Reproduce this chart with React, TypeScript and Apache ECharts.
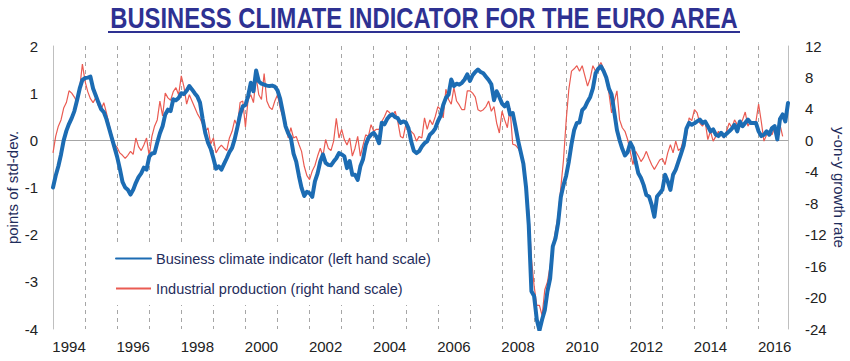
import React, { useEffect, useRef } from "react";
import * as echarts from "echarts";

const FONT = "'Liberation Sans', Arial, sans-serif";
const TITLE = "BUSINESS CLIMATE INDICATOR FOR THE EURO AREA";
const BCI_NAME = "Business climate indicator (left hand scale)";
const IP_NAME = "Industrial production (right hand scale)";
const LEFT_AXIS_NAME = "points of std-dev.";
const RIGHT_AXIS_NAME = "y-on-y growth rate";

const years: number[] = [1994, 1995, 1996, 1997, 1998, 1999, 2000, 2001, 2002, 2003, 2004, 2005, 2006, 2007, 2008, 2009, 2010, 2011, 2012, 2013, 2014, 2015, 2016];
const monthCodes: string[] = ["01", "02", "03", "04", "05", "06", "07", "08", "09", "10", "11", "12"];
const months: string[] = years.flatMap((y) => monthCodes.map((m) => `${y}-${m}`));

// Business climate indicator, points of std-dev (left scale), monthly Jan 1994 - Dec 2016
const businessClimate: number[] = [
  -1.0, -0.75, -0.55, -0.3, 0.0, 0.2, 0.35, 0.47, 0.62, 0.85, 1.1, 1.28, // 1994
  1.32, 1.33, 1.35, 1.1, 0.95, 0.8, 0.66, 0.6, 0.45, 0.25, 0.05, -0.15, // 1995
  -0.35, -0.6, -0.88, -1.0, -1.05, -1.15, -1.05, -0.9, -0.78, -0.7, -0.58, -0.62, // 1996
  -0.35, -0.28, -0.27, -0.05, 0.15, 0.3, 0.55, 0.65, 0.62, 0.87, 0.85, 0.9, // 1997
  1.0, 0.98, 1.05, 1.15, 1.08, 1.0, 0.93, 0.8, 0.45, 0.15, -0.05, -0.18, // 1998
  -0.38, -0.6, -0.55, -0.62, -0.5, -0.38, -0.25, -0.16, 0.03, 0.28, 0.55, 0.72, // 1999
  0.75, 0.94, 1.22, 1.04, 1.48, 1.25, 1.2, 1.18, 1.16, 1.15, 1.16, 1.14, // 2000
  1.06, 0.88, 0.6, 0.3, 0.15, 0.05, -0.28, -0.45, -0.75, -1.01, -1.18, -1.09, // 2001
  -1.12, -1.2, -0.87, -0.7, -0.45, -0.3, -0.48, -0.52, -0.53, -0.45, -0.38, -0.27, // 2002
  -0.3, -0.34, -0.59, -0.44, -0.73, -0.73, -0.84, -0.55, -0.4, -0.1, 0.05, 0.12, // 2003
  0.16, 0.08, -0.06, 0.37, 0.34, 0.45, 0.52, 0.55, 0.49, 0.47, 0.37, 0.4, // 2004
  0.38, 0.26, -0.02, -0.22, -0.27, -0.23, -0.13, -0.06, -0.02, 0.12, 0.17, 0.25, // 2005
  0.4, 0.52, 0.75, 0.9, 0.97, 1.29, 1.15, 1.2, 1.18, 1.22, 1.29, 1.4, // 2006
  1.26, 1.38, 1.45, 1.5, 1.45, 1.42, 1.35, 1.28, 1.19, 0.85, 1.04, 0.92, // 2007
  0.78, 0.72, 0.8, 0.55, 0.58, 0.3, 0.0, -0.25, -0.5, -1.0, -1.8, -3.2, // 2008
  -3.3, -3.8, -4.03, -3.8, -3.6, -3.2, -2.93, -2.25, -2.08, -1.75, -1.2, -0.95, // 2009
  -0.75, -0.45, -0.08, 0.22, 0.37, 0.38, 0.64, 0.7, 0.82, 0.92, 1.1, 1.42, // 2010
  1.52, 1.57, 1.47, 1.33, 1.1, 0.97, 0.6, 0.22, 0.0, -0.18, -0.32, -0.25, // 2011
  -0.05, -0.16, -0.45, -0.7, -0.8, -0.95, -1.16, -1.19, -1.37, -1.62, -1.19, -1.12, // 2012
  -1.05, -0.73, -0.87, -1.05, -0.73, -0.62, -0.45, -0.28, -0.1, 0.25, 0.37, 0.33, // 2013
  0.36, 0.4, 0.44, 0.37, 0.4, 0.3, 0.19, 0.23, 0.12, 0.09, 0.16, 0.09, // 2014
  0.14, 0.19, 0.25, 0.33, 0.19, 0.4, 0.3, 0.37, 0.44, 0.37, 0.37, 0.37, // 2015
  0.19, 0.09, 0.12, 0.19, 0.12, 0.26, 0.3, 0.02, 0.45, 0.55, 0.4, 0.79, // 2016
];

// Industrial production, y-on-y growth rate % (right scale), monthly Jan 1994 - Oct 2016
const industrialProduction: (number | null)[] = [
  -1.6, 0.5, 1.8, 2.6, 4.1, 4.8, 6.3, 6.0, 5.5, 4.8, 6.7, 9.7, // 1994
  7.5, 6.2, 5.3, 4.8, 5.4, 4.4, 3.9, 4.8, 3.5, 2.0, 0.7, -0.5, // 1995
  -0.9, -1.6, -1.9, -2.3, -1.9, -1.4, -1.8, 0.3, -0.8, -1.3, -0.6, 0.3, // 1996
  -2.0, 0.5, 1.8, 2.6, 5.0, 3.1, 6.0, 5.4, 5.1, 6.2, 6.7, 5.8, // 1997
  8.2, 6.8, 4.6, 5.8, 5.0, 4.2, 3.4, 2.8, 2.0, 1.15, 1.6, -0.5, // 1998
  0.3, -1.6, -1.0, -0.6, -1.0, -1.3, 0.3, 1.15, 2.6, 1.8, 4.8, 5.0, // 1999
  1.7, 5.2, 5.8, 4.8, 8.0, 5.8, 5.2, 8.5, 5.0, 4.2, 3.9, 5.0, // 2000
  5.8, 4.1, 3.0, 2.4, 0.3, 1.6, 0.3, 0.5, -0.5, -1.4, -3.3, -4.5, // 2001
  -5.0, -3.9, -3.2, -2.0, -1.0, -2.0, 0.1, -1.0, -1.3, -0.1, 2.8, 0.3, // 2002
  1.4, 0.1, -0.6, 0.3, -2.0, -1.0, 0.5, -2.0, -0.6, 0.7, 0.5, 2.0, // 2003
  1.15, 1.4, 1.4, 2.4, 3.0, 3.8, 3.5, 3.1, 3.7, 2.4, 0.5, 0.3, // 2004
  2.0, 1.4, 1.15, 0.8, -0.1, 0.5, 0.3, 2.85, 1.4, 2.6, 2.0, 3.0, // 2005
  4.3, 3.9, 2.85, 6.5, 5.2, 4.6, 6.7, 5.0, 4.5, 3.9, 3.9, 6.3, // 2006
  6.3, 6.0, 5.5, 3.9, 3.7, 3.9, 4.3, 5.0, 3.7, 4.3, 2.2, 0.93, // 2007
  3.7, 2.6, 1.6, 4.1, -0.5, -0.6, -1.0, -1.6, -3.1, -6.1, -9.0, -15.0, // 2008
  -18.5, -21.0, -21.0, -22.3, -19.0, -18.0, -16.0, -13.5, -11.5, -9.5, -6.0, -2.5, // 2009
  2.5, 6.5, 8.8, 9.1, 9.5, 8.8, 9.5, 8.2, 6.9, 7.9, 9.5, 8.8, // 2010
  9.3, 9.9, 9.1, 7.6, 6.0, 3.5, 5.0, 6.3, 2.6, 1.6, 1.15, 0.1, // 2011
  -1.5, -3.1, -1.4, -2.0, -2.7, -2.2, -1.4, -2.3, -3.1, -3.7, -3.1, -2.5, // 2012
  -2.3, -3.1, -1.6, -0.55, -1.6, -0.1, -1.3, -1.0, 0.3, 0.5, 2.85, 2.5, // 2013
  3.9, 3.5, 2.2, 1.8, 2.4, 0.1, 1.15, -0.1, 0.5, 1.15, 0.7, 0.3, // 2014
  1.15, 2.2, 1.6, 2.6, 2.0, 2.0, 2.6, 3.6, 1.8, 2.4, 2.0, 2.4, // 2015
  4.6, 2.4, -0.1, 0.7, 1.15, 0.7, 1.6, -0.1, 2.0, 0.5, null, null, // 2016
];

const BLUE = "#1C6CB3";
const RED = "#EA5B52";
const NAVY = "#1F2D5C";
const TITLE_COLOR = "#2E3192";
const GRID_GRAY = "#A6A6A6";

export default function App() {
  const ref = useRef<HTMLDivElement>(null);

  useEffect(() => {
    document.body.style.margin = "0";
    if (!ref.current) return;
    const chart = echarts.init(ref.current, undefined, { renderer: "svg" });
    const option: any = {
      animation: false,
      backgroundColor: "#ffffff",
      textStyle: { fontFamily: FONT },
      grid: { left: 53, right: 62, top: 46, bottom: 32, containLabel: false, outerBoundsMode: "none" },
      legend: {
        data: [BCI_NAME, IP_NAME],
        orient: "vertical",
        left: 108,
        top: 242,
        itemWidth: 35,
        itemHeight: 16,
        itemGap: 15,
        padding: [9, 60, 9, 7],
        backgroundColor: "#ffffff",
        z: 10,
        itemStyle: { opacity: 0 },
        textStyle: { fontSize: 14.5, color: NAVY, fontFamily: FONT },
      },
      xAxis: [
        {
          type: "category",
          data: months,
          boundaryGap: false,
          axisLine: { show: false },
          axisTick: { show: false },
          axisLabel: {
            interval: (i: number) => i % 24 === 6,
            formatter: (v: string) => v.slice(0, 4),
            margin: 10,
            fontSize: 15,
            color: "#222222",
            fontFamily: FONT,
          },
          splitLine: {
            show: true,
            interval: (i: number) => i > 0 && i % 12 === 0,
            lineStyle: { color: GRID_GRAY, type: [4, 4], width: 1 },
          },
        },
        {
          type: "category",
          data: months,
          boundaryGap: false,
          axisLine: { show: true, onZero: true, onZeroAxisIndex: 0, lineStyle: { color: GRID_GRAY, width: 1 } },
          axisTick: { show: false },
          axisLabel: { show: false },
          splitLine: { show: false },
        },
      ],
      yAxis: [
        {
          type: "value",
          position: "left",
          min: -4,
          max: 2,
          interval: 1,
          axisLine: { show: true, lineStyle: { color: "#BFBFBF", width: 1 } },
          axisTick: { show: false },
          splitLine: { show: false },
          axisLabel: { fontSize: 15, color: "#222222", margin: 15, fontFamily: FONT },
          name: LEFT_AXIS_NAME,
          nameLocation: "middle",
          nameGap: 33,
          nameRotate: 90,
          nameMoveOverlap: false,
          nameTextStyle: { fontSize: 15, color: NAVY, fontFamily: FONT },
        },
        {
          type: "value",
          position: "right",
          min: -24,
          max: 12,
          interval: 4,
          axisLine: { show: true, lineStyle: { color: "#BFBFBF", width: 1 } },
          axisTick: { show: false },
          splitLine: { show: false },
          axisLabel: { fontSize: 15, color: "#222222", margin: 17, fontFamily: FONT },
          name: RIGHT_AXIS_NAME,
          nameLocation: "middle",
          nameGap: 44,
          nameRotate: -90,
          nameMoveOverlap: false,
          nameTextStyle: { fontSize: 15, color: NAVY, fontFamily: FONT },
        },
      ],
      series: [
        {
          name: BCI_NAME,
          type: "line",
          data: businessClimate,
          xAxisIndex: 0,
          yAxisIndex: 0,
          symbol: "none",
          lineStyle: { color: BLUE, width: 4, join: "round", cap: "round" },
          itemStyle: { color: BLUE },
          z: 4,
        },
        {
          name: IP_NAME,
          type: "line",
          data: industrialProduction,
          xAxisIndex: 0,
          yAxisIndex: 1,
          symbol: "none",
          lineStyle: { color: RED, width: 1.2 },
          itemStyle: { color: RED },
          z: 3,
        },
      ],
      graphic: [
        {
          type: "text",
          x: 424,
          y: 18,
          scaleX: 0.82,
          style: {
            text: TITLE,
            font: "bold 29px 'Liberation Sans', Arial, sans-serif",
            fill: TITLE_COLOR,
            align: "center",
            textAlign: "center",
            verticalAlign: "middle",
            textVerticalAlign: "middle",
          },
        },
        {
          type: "rect",
          shape: { x: 108, y: 31, width: 632, height: 2 },
          style: { fill: TITLE_COLOR },
        },
      ],
    };
    chart.setOption(option);
    return () => chart.dispose();
  }, []);

  return <div ref={ref} style={{ position: "absolute", left: 0, top: 0, width: 850, height: 361 }} />;
}
